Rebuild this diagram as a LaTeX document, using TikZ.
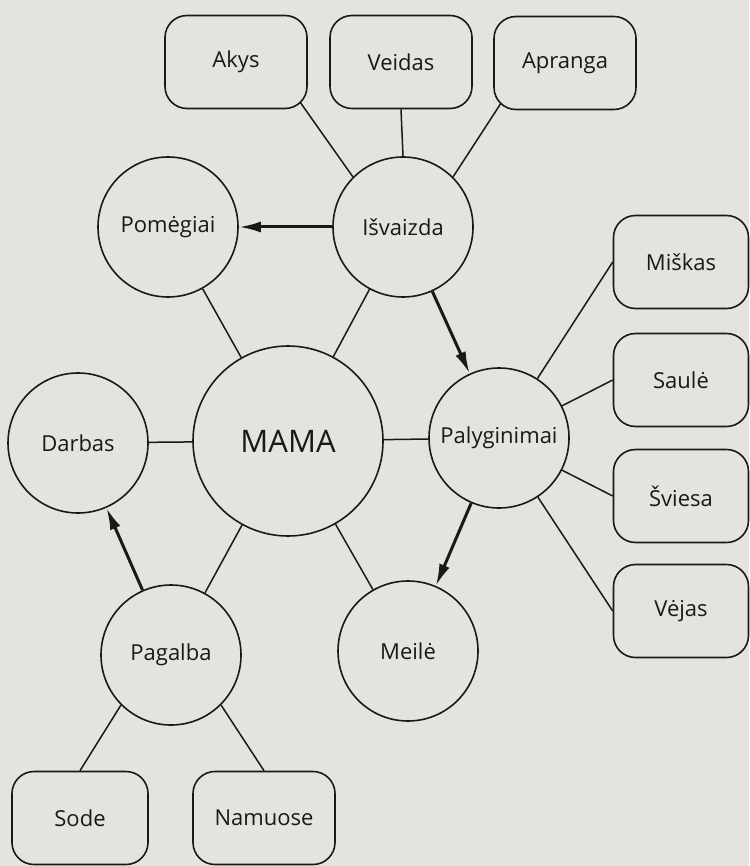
\documentclass[tikz,border=0pt]{standalone}
\usepackage{fontspec}
\setmainfont{Open Sans}
\usetikzlibrary{arrows.meta,backgrounds}
\definecolor{paper}{RGB}{228,227,224}
\definecolor{ink}{RGB}{25,25,25}

\tikzset{
    idea/.style={circle, draw=ink, line width=1.6pt, fill=paper, text=ink,
        minimum size=140pt, inner sep=0pt, font=\fontsize{22}{26}\selectfont},
    core/.style={idea, minimum size=190pt, font=\fontsize{31}{36}\selectfont},
    leaf/.style={rectangle, rounded corners=22pt, draw=ink, line width=1.6pt,
        fill=paper, text=ink, minimum width=142pt, minimum height=93pt,
        font=\fontsize{22}{26}\selectfont},
    link/.style={draw=ink, line width=1.5pt},
    flow/.style={draw=ink, line width=3pt, -{Latex[length=22pt,width=11pt]}},
}

\begin{document}
\begin{tikzpicture}[x=1pt,y=-1pt]
    \useasboundingbox (0,0) rectangle (749,866);

    \node[core] (mama) at (288,441) {MAMA};
    \node[idea] (isvaizda) at (403,227) {Išvaizda};
    \node[idea] (pomegiai) at (168,227) {Pomėgiai};
    \node[idea] (palyg) at (499,438) {Palyginimai};
    \node[idea] (darbas) at (78,443) {Darbas};
    \node[idea] (pagalba) at (171,655) {Pagalba};
    \node[idea] (meile) at (408,651) {Meilė};

    \node[leaf] (akys) at (236,62) {Akys};
    \node[leaf] (veidas) at (401,62) {Veidas};
    \node[leaf] (apranga) at (565,63) {Apranga};

    \node[leaf, minimum width=135pt] (miskas) at (681,262) {Miškas};
    \node[leaf, minimum width=135pt] (saule) at (681,380) {Saulė};
    \node[leaf, minimum width=135pt] (sviesa) at (681,496) {Šviesa};
    \node[leaf, minimum width=135pt] (vejas) at (681,611) {Vėjas};

    \node[leaf, minimum width=136pt] (sode) at (80,818) {Sode};
    \node[leaf] (namuose) at (264,818) {Namuose};

    \begin{pgfonlayer}{background}
        \fill[paper] (0,0) rectangle (749,866);
        % spokes round the centre
        \draw[link] (mama) -- (pomegiai);
        \draw[link] (mama) -- (isvaizda);
        \draw[link] (mama) -- (darbas);
        \draw[link] (mama) -- (palyg);
        \draw[link] (mama) -- (pagalba);
        \draw[link] (mama) -- (meile);
        % outer boxes
        \draw[link] (isvaizda.135) -- ([shift={(-9pt,9pt)}]akys.south east);
        \draw[link] (isvaizda.90) -- (veidas.south);
        \draw[link] (isvaizda.45) -- ([shift={(9pt,9pt)}]apranga.south west);
        \draw[link] (palyg) -- (miskas.west);
        \draw[link] (palyg) -- (saule.west);
        \draw[link] (palyg) -- (sviesa.west);
        \draw[link] (palyg) -- (vejas.west);
        \draw[link] (pagalba.-135) -- (sode.north);
        \draw[link] (pagalba.-45) -- (namuose.north);
    \end{pgfonlayer}

    \draw[flow] (isvaizda) -- (pomegiai);
    \draw[flow] (isvaizda) -- (palyg);
    \draw[flow] (palyg) -- (meile);
    \draw[flow] (pagalba) -- (darbas);
\end{tikzpicture}
\end{document}
